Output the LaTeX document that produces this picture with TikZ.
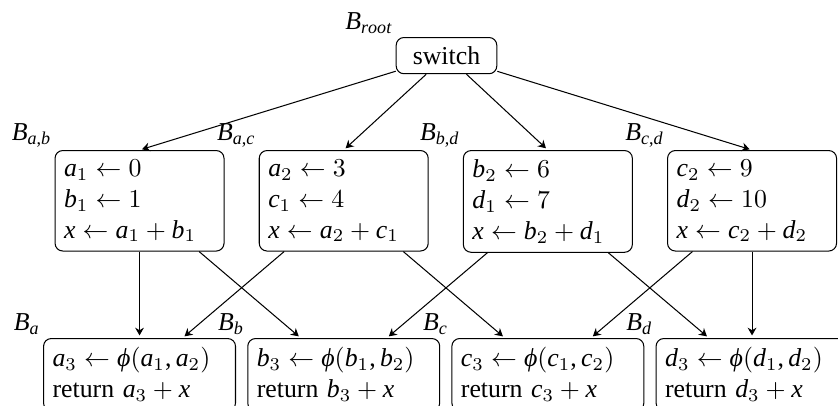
\documentclass[tikz,border=0pt]{standalone}
\usepackage{fontspec}
\setmainfont{Liberation Serif}
\DeclareSymbolFont{operators}{TU}{\rmdefault}{m}{n}
\DeclareSymbolFont{letters}{TU}{\rmdefault}{m}{it}
\DeclareMathSymbol{,}{\mathpunct}{operators}{`,}
\Umathchardef\phi="0 \symletters "03D5
\usetikzlibrary{arrows.meta,positioning}

\begin{document}
\begin{tikzpicture}[
  blk/.style={draw,rounded corners=3pt,inner sep=3.5pt,align=left},
  midblk/.style={blk,anchor=north,text width=58.5pt},
  lowblk/.style={blk,anchor=north,text width=67.4pt},
  lab/.style={inner sep=1pt},
  flow/.style={-{Stealth[length=3pt,width=3.4pt]},shorten >=1pt}]
\useasboundingbox (0,0) rectangle (11.417,-5.518);
% Entry block
\node[blk,anchor=north,minimum width=39pt]
  (root) at (6.083,-0.504) {switch};
\node at (root.north west) [lab,anchor=south east] {$B_{root}$};
% Blocks after the switch
\node[midblk,label={[lab]north west:$B_{a,b}$}] (ab) at (1.901,-2.044)
  {$a_1 \leftarrow 0$\\$b_1 \leftarrow 1$\\$x \leftarrow a_1 + b_1$};
\node[midblk,label={[lab]north west:$B_{a,c}$}] (ac) at (4.683,-2.044)
  {$a_2 \leftarrow 3$\\$c_1 \leftarrow 4$\\$x \leftarrow a_2 + c_1$};
\node[midblk,label={[lab]north west:$B_{b,d}$}] (bd) at (7.464,-2.044)
  {$b_2 \leftarrow 6$\\$d_1 \leftarrow 7$\\$x \leftarrow b_2 + d_1$};
\node[midblk,label={[lab]north west:$B_{c,d}$}] (cd) at (10.246,-2.044)
  {$c_2 \leftarrow 9$\\$d_2 \leftarrow 10$\\$x \leftarrow c_2 + d_2$};
% Join blocks with phi nodes
\node[lowblk,label={[lab]north west:$B_a$}] (ba) at (1.901,-4.605)
  {$a_3 \leftarrow \phi(a_1, a_2)$\\return $a_3 + x$};
\node[lowblk,label={[lab]north west:$B_b$}] (bb) at (4.683,-4.605)
  {$b_3 \leftarrow \phi(b_1, b_2)$\\return $b_3 + x$};
\node[lowblk,label={[lab]north west:$B_c$}] (bc) at (7.464,-4.605)
  {$c_3 \leftarrow \phi(c_1, c_2)$\\return $c_3 + x$};
\node[lowblk,label={[lab]north west:$B_d$}] (bdd) at (10.246,-4.605)
  {$d_3 \leftarrow \phi(d_1, d_2)$\\return $d_3 + x$};
% Switch edges
\draw[flow] (root) -- (ab.north);
\draw[flow] (root) -- (ac.north);
\draw[flow] (root) -- (bd.north);
\draw[flow] (root) -- (cd.north);
% Edges into the join blocks
\draw[flow] (ab) -- (ba);
\draw[flow] (ab) -- (bb);
\draw[flow] (ac) -- (ba);
\draw[flow] (ac) -- (bc);
\draw[flow] (bd) -- (bb);
\draw[flow] (bd) -- (bdd);
\draw[flow] (cd) -- (bc);
\draw[flow] (cd) -- (bdd);
\end{tikzpicture}
\end{document}
